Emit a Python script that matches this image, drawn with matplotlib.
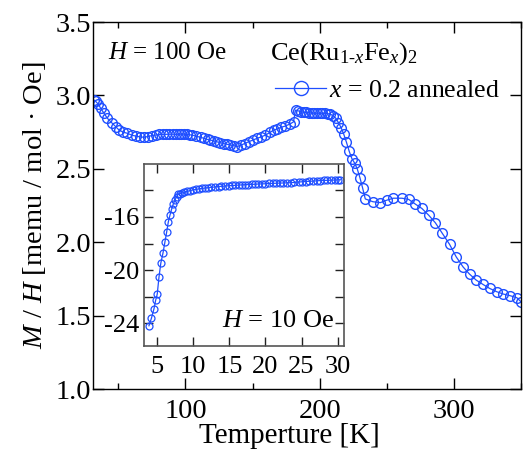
import matplotlib
matplotlib.use("Agg")
import matplotlib.pyplot as plt
from matplotlib.ticker import MultipleLocator

plt.rcParams['font.family'] = ['Liberation Serif', 'DejaVu Serif']
plt.rcParams['mathtext.fontset'] = 'custom'
plt.rcParams['mathtext.rm'] = 'Liberation Serif'
plt.rcParams['mathtext.it'] = 'Liberation Serif:italic'
plt.rcParams['axes.unicode_minus'] = False

# ---- main data (H = 100 Oe) ----
temp_main = [31.5, 33, 35, 36.8, 39.3, 41.8, 45, 48, 50.5, 53.5, 56.7, 59.8, 62.9, 66, 69,
             72, 75, 77.7, 80.5, 83, 85.1, 88, 90.5, 92.6, 95, 97, 98.7, 101, 103, 105,
             108, 111.2, 114, 116.5, 118.6, 121, 123.5, 126, 128.5, 131, 133.5, 136, 138.5,
             141, 144, 147.1, 150, 153.4, 156.5, 159.6, 163, 165.7, 168.5, 171, 174.5, 178,
             180.5, 182, 184, 186, 188, 190, 192, 194, 196, 198, 200, 202, 204, 206, 208,
             210, 212, 214, 216, 218, 220, 222, 224, 226, 228, 230, 232, 234,
             239.7, 245.2, 250.2, 255, 261.3, 266.3, 271.3, 276.2, 281.2, 286.2, 291.1,
             296.8, 301.8, 306.8, 311.7, 316.7, 321.7, 326.6, 332, 337, 342, 347, 350]
mh_main = [2.97, 2.96, 2.94, 2.912, 2.878, 2.844, 2.814, 2.787, 2.764, 2.75, 2.742, 2.73, 2.723, 2.718, 2.715,
           2.72, 2.727, 2.73, 2.734, 2.735, 2.735, 2.736, 2.736, 2.735, 2.736, 2.737, 2.737, 2.735, 2.732, 2.73,
           2.722, 2.715, 2.707, 2.70, 2.696, 2.69, 2.684, 2.678, 2.672, 2.667, 2.662, 2.658, 2.652,
           2.66, 2.672, 2.685, 2.695, 2.708, 2.718, 2.73, 2.748, 2.764, 2.772, 2.782, 2.792, 2.806,
           2.82, 2.90, 2.895, 2.889, 2.886, 2.884, 2.882, 2.88, 2.879, 2.879, 2.879, 2.879, 2.878, 2.876, 2.872,
           2.862, 2.845, 2.815, 2.78, 2.735, 2.68, 2.62, 2.57, 2.54, 2.50, 2.44, 2.37, 2.295,
           2.276, 2.27, 2.287, 2.30, 2.30, 2.292, 2.26, 2.23, 2.185, 2.133, 2.065,
           1.986, 1.90, 1.833, 1.783, 1.742, 1.713, 1.686, 1.663, 1.647, 1.636, 1.622, 1.595]

# ---- inset data (H = 10 Oe) ----
temp_inset = [3.85, 4.2, 4.55, 4.78, 5.0, 5.24, 5.5, 5.8, 6.07, 6.3, 6.53, 6.76, 6.99, 7.2, 7.46,
              7.69, 7.9, 8.15, 8.4, 8.75, 9.1, 9.5, 10.0, 10.4, 10.8, 11.2, 11.6, 12.0, 12.5, 13.0,
              13.5, 13.9, 14.4, 14.9, 15.4, 15.8, 16.3, 16.8, 17.2, 17.6, 18.1, 18.6, 19.0, 19.5,
              20.0, 20.5, 21.0, 21.5, 22.0, 22.5, 23.0, 23.5, 24.0, 24.6, 25.1, 25.6, 26.1, 26.6,
              27.1, 27.6, 28.1, 28.6, 29.1, 29.6, 30.1, 30.4]
mh_inset = [-24.18, -23.6, -22.9, -22.26, -21.8, -20.52, -19.45, -18.7, -17.86, -17.15, -16.38, -15.87, -15.41, -15.06, -14.72,
            -14.47, -14.29, -14.24, -14.2, -14.14, -14.08, -14.02, -13.95, -13.92, -13.88, -13.85, -13.82, -13.8, -13.77, -13.74,
            -13.71, -13.69, -13.67, -13.65, -13.63, -13.62, -13.6, -13.58, -13.57, -13.56, -13.55, -13.53, -13.52, -13.51,
            -13.5, -13.48, -13.47, -13.46, -13.45, -13.44, -13.43, -13.42, -13.4, -13.37, -13.35, -13.33, -13.31, -13.3,
            -13.28, -13.26, -13.25, -13.24, -13.23, -13.22, -13.21, -13.2]

blue = '#1f4fff'

fig = plt.figure(figsize=(5.31, 4.54), dpi=100)
ax = fig.add_axes([0.175, 0.143, 0.806, 0.8085])
ax.plot(temp_main, mh_main, '-', color=blue, lw=0.9, marker='o', ms=7,
        mfc='none', mec=blue, mew=1.0, label=r'$x$ = 0.2 annealed')
ax.set_xlim(31, 350)
ax.set_ylim(1.0, 3.5)
ax.xaxis.set_major_locator(MultipleLocator(100))
ax.xaxis.set_minor_locator(MultipleLocator(50))
ax.yaxis.set_major_locator(MultipleLocator(0.5))
ax.yaxis.set_major_formatter(matplotlib.ticker.FormatStrFormatter('%.1f'))
ax.tick_params(which='both', direction='in', top=True, right=True, labelsize=20.5, width=1.0)
ax.tick_params(which='major', length=8)
ax.tick_params(which='minor', length=4)
ax.tick_params(axis='x', pad=7)
ax.tick_params(axis='y', pad=1)
for s in ax.spines.values():
    s.set_linewidth(1.0)
ax.set_xlabel('Temperture [K]', fontsize=21)
ax.xaxis.set_label_coords(0.46, -0.093)
ax.set_ylabel(r'$M$ / $H$ [memu / mol · Oe]', fontsize=20.5, labelpad=6)

ax.text(0.035, 0.915, r'$H$ = 100 Oe', transform=ax.transAxes, fontsize=18, va='center', ha='left')
ax.text(0.413, 0.915, r'Ce(Ru$_{1\text{-}x}$Fe$_{x}$)$_2$', transform=ax.transAxes, fontsize=19,
        va='center', ha='left')
leg = ax.legend(loc='upper left', bbox_to_anchor=(0.425, 0.845), frameon=False, fontsize=18.5,
                handlelength=2.0, handletextpad=0.1, markerscale=1.45, borderaxespad=0, borderpad=0)

# ---- inset ----
axi = fig.add_axes([0.271, 0.238, 0.377, 0.3997])
axi.plot(temp_inset, mh_inset, '-', color=blue, lw=0.9, marker='o', ms=5,
         mfc='none', mec=blue, mew=0.9)
axi.set_xlim(3.15, 30.9)
axi.set_ylim(-25.7, -12.05)
axi.xaxis.set_major_locator(MultipleLocator(5))
axi.yaxis.set_major_locator(MultipleLocator(4))
axi.yaxis.set_minor_locator(MultipleLocator(2))
axi.tick_params(which='both', direction='in', top=True, right=True, labelsize=19, length=6.5,
                width=1.0, color='#222222')
axi.tick_params(axis='x', pad=7)
for s in axi.spines.values():
    s.set_linewidth(1.2)
    s.set_color('#555555')
axi.text(0.95, 0.14, r'$H$ = 10 Oe', transform=axi.transAxes, fontsize=19, ha='right', va='center')

fig.savefig('out.png', dpi=100)
